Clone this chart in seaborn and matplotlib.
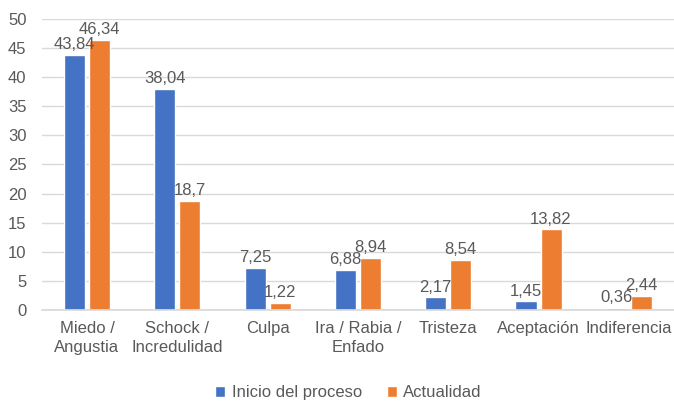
import matplotlib
matplotlib.use("Agg")
import matplotlib.pyplot as plt
import pandas as pd
import seaborn as sns

# Data
categories = ["Miedo /\nAngustia", "Schock /\nIncredulidad", "Culpa",
              "Ira / Rabia /\nEnfado", "Tristeza", "Aceptación", "Indiferencia"]
inicio = [43.84, 38.04, 7.25, 6.88, 2.17, 1.45, 0.36]
actualidad = [46.34, 18.7, 1.22, 8.94, 8.54, 13.82, 2.44]
series_names = ["Inicio del proceso", "Actualidad"]
y_ticks = list(range(0, 55, 5))

colors = ["#4472C4", "#ED7D31"]
text_color = "#595959"
grid_color = "#D9D9D9"

df = pd.DataFrame({
    "categoria": categories * 2,
    "valor": inicio + actualidad,
    "serie": [series_names[0]] * len(categories) + [series_names[1]] * len(categories),
})

sns.set_theme(style="white")
plt.rcParams["font.family"] = ["Liberation Sans", "DejaVu Sans"]

fig = plt.figure(figsize=(6.74, 4.03), dpi=100)
ax = fig.add_axes([0.062, 0.231, 0.938, 0.722])

sns.barplot(data=df, x="categoria", y="valor", hue="serie", palette=colors,
            width=0.555, gap=0.16, ax=ax, saturation=1, errorbar=None)

# Value labels with comma decimals
for container, vals in zip(ax.containers, [inicio, actualidad]):
    labels = [f"{v:g}".replace(".", ",") for v in vals]
    ax.bar_label(container, labels=labels, padding=2, fontsize=12, color=text_color)

ax.set_ylim(0, 50)
ax.set_yticks(y_ticks)
ax.set_xlim(-0.5, len(categories) - 0.5)
ax.yaxis.grid(True, color=grid_color, linewidth=1)
ax.set_axisbelow(True)
for s in ["top", "right", "left"]:
    ax.spines[s].set_visible(False)
ax.spines["bottom"].set_color(grid_color)
ax.tick_params(axis="both", length=0, labelsize=12, colors=text_color)
ax.tick_params(axis="x", pad=8)
ax.tick_params(axis="y", pad=11)
for lbl in ax.get_xticklabels():
    lbl.set_linespacing(1.35)
ax.set_xlabel("")
ax.set_ylabel("")

ax.legend(loc="center", bbox_to_anchor=(0.485, -0.285), ncol=2, frameon=False,
          fontsize=12, labelcolor=text_color, handlelength=0.6, handleheight=0.6,
          handletextpad=0.4, columnspacing=1.5)

fig.savefig("out.png", dpi=100)
